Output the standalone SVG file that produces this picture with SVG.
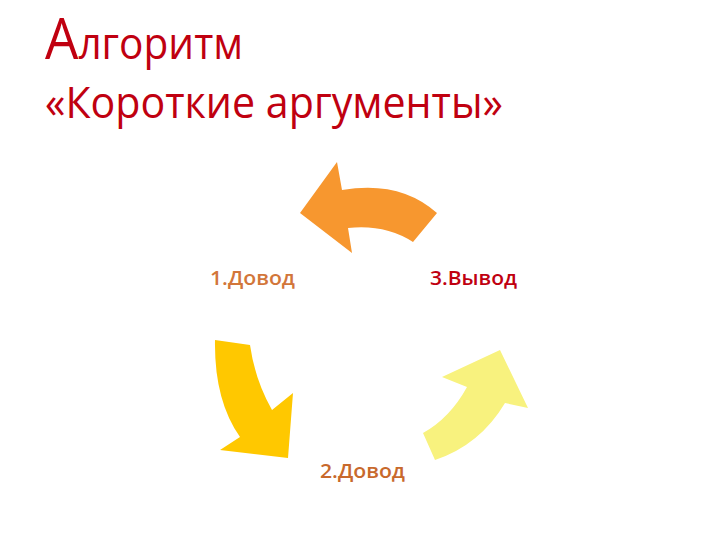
<svg xmlns="http://www.w3.org/2000/svg" width="720" height="540" viewBox="0 0 720 540">
<style>
.t{font-family:"Open Sans","Noto Sans","Liberation Sans",sans-serif;fill:#C00010}
.lbl{font-family:"Open Sans","Noto Sans","Liberation Sans",sans-serif;font-size:19px;font-weight:600}
</style>
<rect width="720" height="540" fill="#FFFFFF"/>
<g id="title">
<text class="t" x="45" y="59" textLength="198" lengthAdjust="spacingAndGlyphs"><tspan font-size="56">А</tspan><tspan font-size="43">лгоритм</tspan></text>
<text class="t" x="45" y="118" font-size="43" textLength="458" lengthAdjust="spacingAndGlyphs">«Короткие аргументы»</text>
</g>
<g id="connectors">
<path id="arrow-top" fill="#F7972F" d="M437,213 Q400,180 342,190 L337,162 L300,213 L352,253 L348,228 Q385,224 413,242 Z"/>
<path id="arrow-left" fill="#FFC800" d="M215,340 Q214,400 240,437 L220,450 L288,458 L293,393 L272,410 Q255,380 250,345 Z"/>
<path id="arrow-right" fill="#F8F27E" d="M435,460 Q480,445 505,403 L528,408 L500,350 L442,377 L467,387 Q450,418 423,433 Z"/>
</g>
<g id="node1"><text class="lbl" x="210" y="285" fill="#D2763A" textLength="85" lengthAdjust="spacingAndGlyphs">1.Довод</text></g>
<g id="node3"><text class="lbl" x="430" y="285" fill="#C00010" textLength="87" lengthAdjust="spacingAndGlyphs">3.Вывод</text></g>
<g id="node2"><text class="lbl" x="320" y="478" fill="#C8692C" textLength="85" lengthAdjust="spacingAndGlyphs">2.Довод</text></g>
</svg>
